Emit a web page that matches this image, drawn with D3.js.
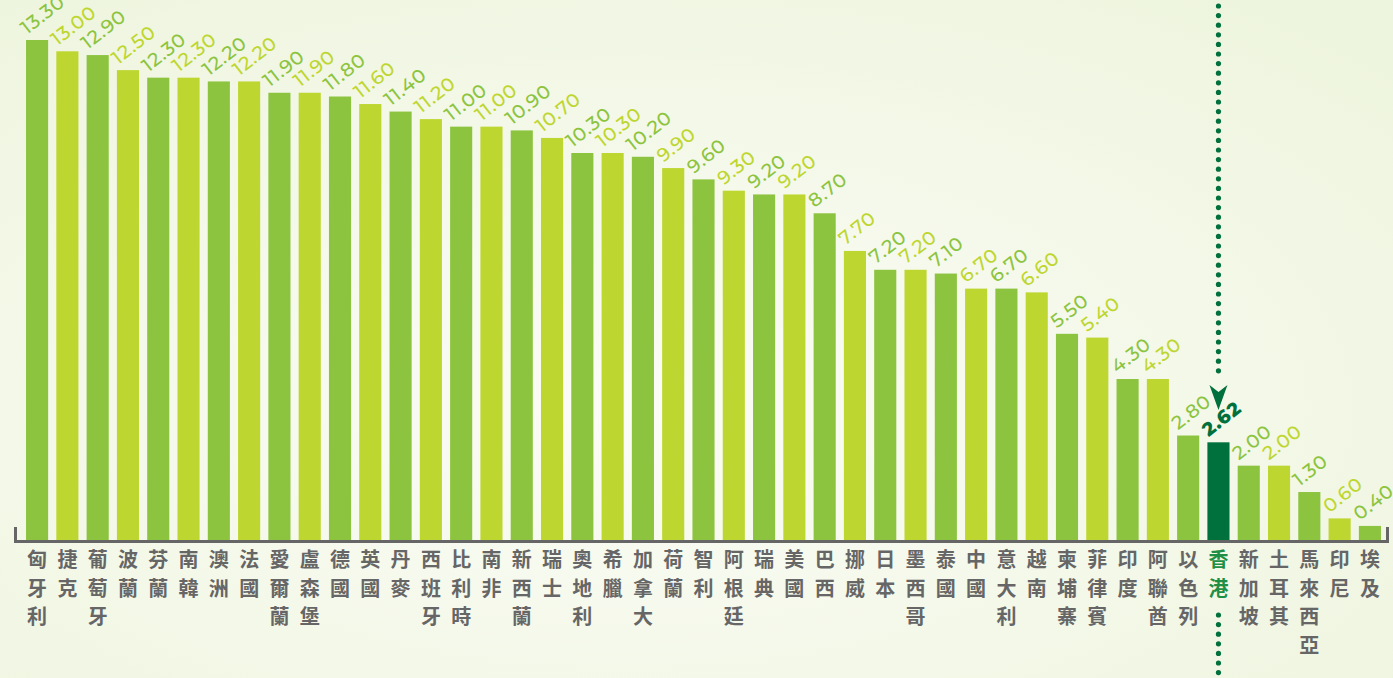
<!DOCTYPE html>
<html>
<head>
<meta charset="utf-8">
<style>
  html, body { margin: 0; padding: 0; }
  body { width: 1393px; height: 678px; overflow: hidden; }
</style>
</head>
<body>
<svg width="1393" height="678"></svg>
<script src="https://d3js.org/d3.v7.min.js"></script>
<script>

var countries = ["匈牙利","捷克","葡萄牙","波蘭","芬蘭","南韓","澳洲","法國","愛爾蘭","盧森堡",
    "德國","英國","丹麥","西班牙","比利時","南非","新西蘭","瑞士","奧地利","希臘",
    "加拿大","荷蘭","智利","阿根廷","瑞典","美國","巴西","挪威","日本","墨西哥",
    "泰國","中國","意大利","越南","柬埔寨","菲律賓","印度","阿聯酋","以色列","香港",
    "新加坡","土耳其","馬來西亞","印尼","埃及"];

var values = [13.30,13.00,12.90,12.50,12.30,12.30,12.20,12.20,11.90,11.90,
    11.80,11.60,11.40,11.20,11.00,11.00,10.90,10.70,10.30,10.30,
    10.20,9.90,9.60,9.30,9.20,9.20,8.70,7.70,7.20,7.20,
    7.10,6.70,6.70,6.60,5.50,5.40,4.30,4.30,2.80,2.62,
    2.00,2.00,1.30,0.60,0.40];

var highlight = "香港";

var svg = d3.select("svg"),
    width = +svg.attr("width"),
    height = +svg.attr("height");

var green = "#8cc43f", lime = "#bed630", dark = "#00703c", grey = "#666666";

// background
var defs = svg.append("defs");
var grad = defs.append("radialGradient").attr("id", "bg")
    .attr("cx", "45%").attr("cy", "60%").attr("r", "75%");
grad.append("stop").attr("offset", "0%").attr("stop-color", "#fbfcf6");
grad.append("stop").attr("offset", "100%").attr("stop-color", "#eef5de");
svg.append("rect").attr("width", width).attr("height", height).attr("fill", "url(#bg)");

var baseY = 541;

var x = d3.scaleBand()
    .domain(countries)
    .range([23, 1384])
    .paddingInner(0.27)
    .paddingOuter(0.1);

var y = d3.scaleLinear()
    .domain([0, 13.3])
    .range([baseY, 40]);

function barColor(d, i) {
  if (d === highlight) return dark;
  return i % 2 === 0 ? green : lime;
}

var data = countries.map(function(c, i) { return {name: c, value: values[i], i: i}; });

// bars
svg.append("g").selectAll("rect")
  .data(data)
  .enter().append("rect")
    .attr("x", function(d) { return x(d.name); })
    .attr("y", function(d) { return y(d.value); })
    .attr("width", x.bandwidth())
    .attr("height", function(d) { return baseY - y(d.value); })
    .attr("fill", function(d) { return barColor(d.name, d.i); });

// value labels
svg.append("g").selectAll("text")
  .data(data)
  .enter().append("text")
    .attr("transform", function(d) {
      return "translate(" + (x(d.name) + 1) + "," + (y(d.value) - 5) + ") rotate(-38)";
    })
    .attr("font-family", "Montserrat, 'Open Sans', sans-serif")
    .attr("font-size", 19)
    .attr("font-weight", function(d) { return d.name === highlight ? 800 : 500; })
    .attr("letter-spacing", 0.8)
    .attr("fill", function(d) { return barColor(d.name, d.i); })
    .text(function(d) { return d.value.toFixed(2); });

// axis line
svg.append("path")
    .attr("d", "M15.5,527V541.5H1387.5V527")
    .attr("fill", "none")
    .attr("stroke", grey)
    .attr("stroke-width", 3);

// category labels, one character per line
var cat = svg.append("g").selectAll("text")
  .data(data)
  .enter().append("text")
    .attr("x", function(d) { return x(d.name) + x.bandwidth() / 2; })
    .attr("y", 567)
    .attr("text-anchor", "middle")
    .attr("font-family", "'Noto Sans CJK TC', 'Noto Sans CJK SC', sans-serif")
    .attr("font-size", 20)
    .attr("font-weight", 700)
    .attr("fill", function(d) { return d.name === highlight ? "#1f8f45" : grey; });

cat.selectAll("tspan")
  .data(function(d) { return Array.from(d.name).map(function(ch) { return {ch: ch, x: x(d.name) + x.bandwidth() / 2}; }); })
  .enter().append("tspan")
    .attr("x", function(d) { return d.x; })
    .attr("dy", function(d, i) { return i === 0 ? 0 : 28.5; })
    .text(function(d) { return d.ch; });

// dotted pointer to highlight
var hx = x(highlight) + x.bandwidth() / 2;
var dotsTop = d3.range(6, 380, 9.6);
var dotsBot = d3.range(615, 674, 9.6);
svg.append("g").selectAll("circle")
  .data(dotsTop.concat(dotsBot))
  .enter().append("circle")
    .attr("cx", hx)
    .attr("cy", function(d) { return d; })
    .attr("r", 2.6)
    .attr("fill", dark);

svg.append("path")
    .attr("d", "M" + (hx - 9) + ",385L" + hx + ",410L" + (hx + 9) + ",385L" + hx + ",392Z")
    .attr("fill", dark);

</script>
</body>
</html>
